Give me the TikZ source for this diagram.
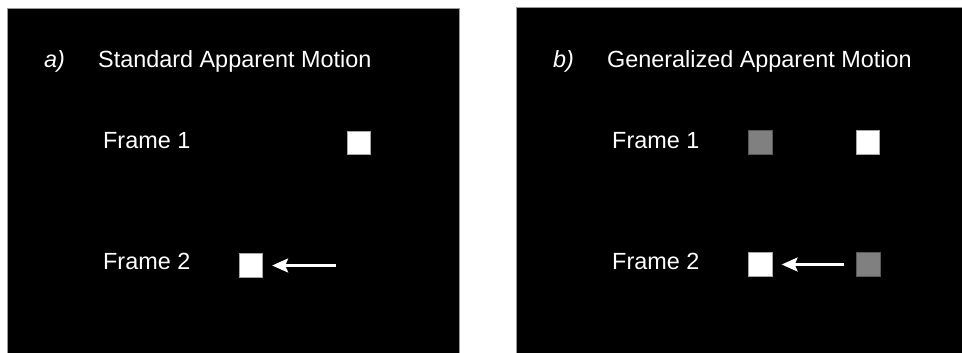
\documentclass[tikz,border=0pt]{standalone}
\usepackage{fontspec}
\setmainfont{Liberation Sans}
\usetikzlibrary{arrows.meta}
\tikzset{
  panel/.style={fill=black,draw=gray!80,line width=0.8pt},
  lbl/.style={text=white,inner sep=0pt,anchor=base west,font=\fontsize{23.4}{28}\selectfont},
  ilbl/.style={lbl,font=\fontsize{23.4}{28}\selectfont\itshape},
  wsq/.style={fill=white,draw=gray!70,line width=0.8pt,minimum size=23.5pt,inner sep=0pt},
  gsq/.style={fill=gray,draw=gray!70!black,line width=0.8pt,minimum size=23.5pt,inner sep=0pt},
  motion/.style={draw=white,line width=2.3pt,-{Stealth[length=16pt,width=14pt,inset=3pt]}}
}
\begin{document}
\begin{tikzpicture}[x=1pt,y=-1pt]
\useasboundingbox (0,0) rectangle (962,353);
\fill[white] (0,0) rectangle (962,353);
% panels
\draw[panel] (7,8) rectangle (459,360);
\draw[panel] (516,7) rectangle (970,360);
% left panel
\node[ilbl] (ta) at (44,68) {a)};
\node[lbl] (tta) at (98,68) {Standard Apparent Motion};
\node[lbl] (f1a) at (103,148) {Frame 1};
\node[lbl] (f2a) at (103,269) {Frame 2};
\node[wsq] (s1a) at (359,143) {};
\node[wsq] (s2a) at (251,265.5) {};
\coordinate (taila) at (336,265.5);
\draw[motion,shorten >=9pt] (taila) -- (s2a.east);
% right panel
\node[ilbl] (tb) at (553,68) {b)};
\node[lbl] (ttb) at (607,68) {Generalized Apparent Motion};
\node[lbl] (f1b) at (612,148) {Frame 1};
\node[lbl] (f2b) at (612,269) {Frame 2};
\node[gsq] (g1b) at (760.5,142.5) {};
\node[wsq] (w1b) at (868,142.5) {};
\node[wsq] (w2b) at (760.5,264.5) {};
\node[gsq] (g2b) at (868.5,264.5) {};
\draw[motion,shorten <=12pt,shorten >=9pt] (g2b.west) -- (w2b.east);
\end{tikzpicture}
\end{document}
